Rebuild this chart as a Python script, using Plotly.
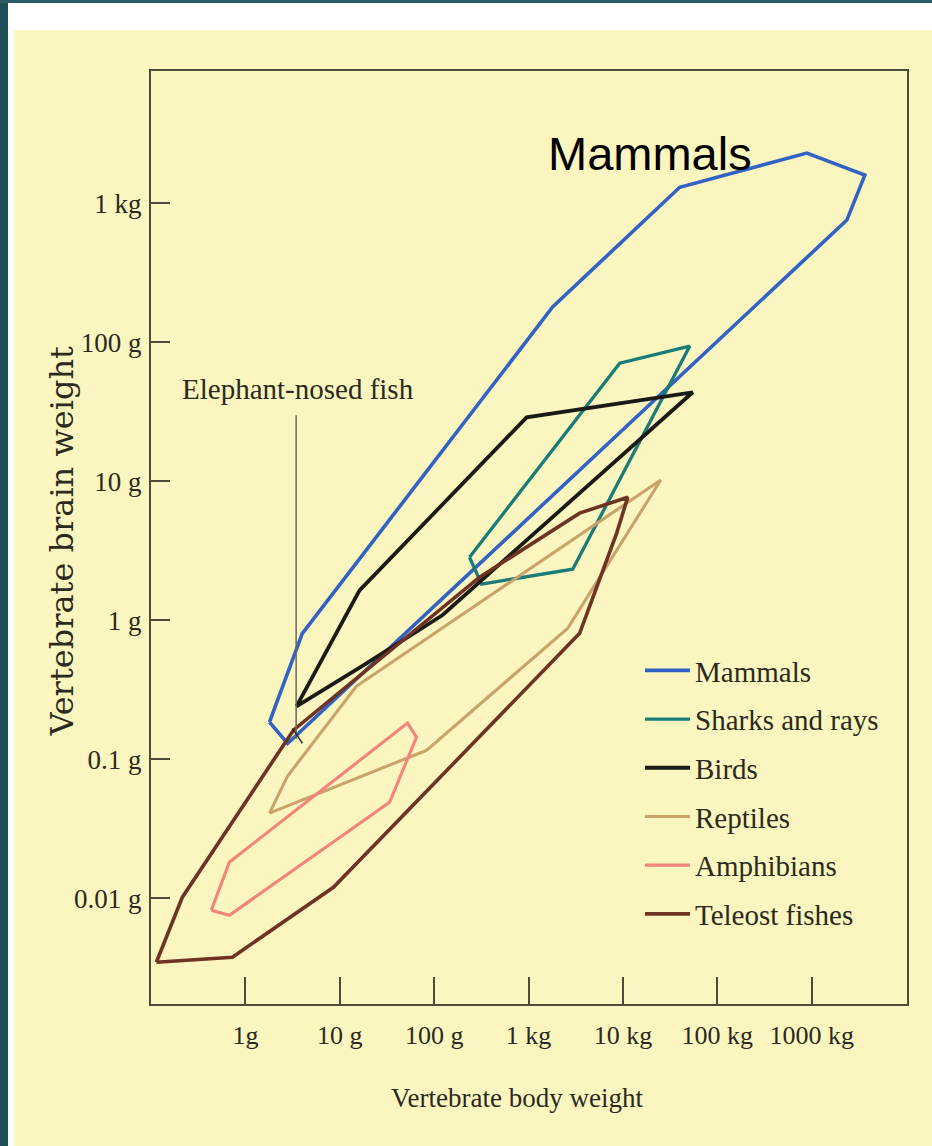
import math
import plotly.graph_objects as go

# ---------------- data (grams) ----------------
mammals_body = [1.8, 4.0, 1800, 40000, 889000, 3660000, 2360000, 2.8, 1.8]
mammals_brain = [0.185, 0.8, 179, 1300, 2290, 1590, 755, 0.13, 0.185]

sharks_body = [237, 318, 2940, 51000, 9250, 237]
sharks_brain = [2.84, 1.82, 2.33, 93.5, 70.6, 2.84]

birds_body = [3.48, 16.2, 955, 55000, 123, 19.2, 3.48]
birds_brain = [0.24, 1.64, 28.8, 43.6, 1.09, 0.49, 0.24]

reptiles_body = [1.8, 2.79, 15.0, 25200, 2600, 83, 1.8]
reptiles_brain = [0.041, 0.0755, 0.335, 10.2, 0.875, 0.116, 0.041]

amphibians_body = [0.436, 0.676, 33.7, 65, 52.2, 0.676, 0.436]
amphibians_brain = [0.0082, 0.00755, 0.049, 0.144, 0.182, 0.0182, 0.0082]

teleost_body = [0.114, 0.728, 8.57, 3480, 8590, 11250, 3480, 303, 3.23, 0.215, 0.114]
teleost_brain = [0.00347, 0.00377, 0.012, 0.805, 4.23, 7.67, 5.89, 2.04, 0.162, 0.0102, 0.00347]

fish_marker_body = [3.45, 3.45]
fish_marker_brain = [29.8, 0.14]
fish_tick_body = [3.15, 4.02]
fish_tick_brain = [0.167, 0.130]

group_names = ["Mammals", "Sharks and rays", "Birds", "Reptiles", "Amphibians", "Teleost fishes"]
group_colors = ["#3262c4", "#197c76", "#1c1a17", "#c9a26c", "#f4837a", "#6e3322"]
group_widths = [3.6, 3.3, 3.8, 3.1, 3.1, 3.6]

x_tickvals = [1, 10, 100, 1000, 10000, 100000, 1000000]
x_ticktext = ["1g", "10 g", "100 g", "1 kg", "10 kg", "100 kg", "1000 kg"]
y_tickvals = [0.01, 0.1, 1, 10, 100, 1000]
y_ticktext = ["0.01 g", "0.1 g", "1 g", "10 g", "100 g", "1 kg"]

# ---------------- layout geometry ----------------
W, H = 932, 1146
L, R, T, B = 151, 907, 71, 1004


def px_x(p):
    return (p - L) / (R - L)


def px_y(p):
    return 1 - (p - T) / (B - T)


SERIF = "Liberation Serif"
INK = "#2b2a20"
FRAME = "#4d4a38"

fig = go.Figure()

series = [
    (mammals_body, mammals_brain),
    (sharks_body, sharks_brain),
    (birds_body, birds_brain),
    (reptiles_body, reptiles_brain),
    (amphibians_body, amphibians_brain),
    (teleost_body, teleost_brain),
]

for (bx, by), name, col, w in zip(series, group_names, group_colors, group_widths):
    fig.add_trace(go.Scatter(
        x=bx, y=by, mode="lines", name=name, legendgroup=name,
        line=dict(color=col, width=w), hoverinfo="name",
    ))

fig.add_trace(go.Scatter(
    x=fish_marker_body, y=fish_marker_brain, mode="lines", showlegend=False,
    line=dict(color="#6b6a58", width=1.5), hoverinfo="skip",
))
fig.add_trace(go.Scatter(
    x=fish_tick_body, y=fish_tick_brain, mode="lines", showlegend=False,
    line=dict(color="#2a2a20", width=1.5), hoverinfo="skip",
))

shapes = [
    dict(type="rect", xref="paper", yref="paper", x0=px_x(0), x1=px_x(W), y0=px_y(H), y1=px_y(0),
         fillcolor="#fbf6bf", line=dict(width=0), layer="below"),
    dict(type="rect", xref="paper", yref="paper", x0=px_x(8), x1=px_x(W), y0=px_y(30), y1=px_y(3),
         fillcolor="#ffffff", line=dict(width=0), layer="below"),
    dict(type="rect", xref="paper", yref="paper", x0=px_x(8), x1=px_x(14), y0=px_y(H), y1=px_y(3),
         fillcolor="#ffffff", line=dict(width=0), layer="below"),
    dict(type="rect", xref="paper", yref="paper", x0=px_x(0), x1=px_x(8), y0=px_y(H), y1=px_y(0),
         fillcolor="#1f4d58", line=dict(width=0), layer="below"),
    dict(type="rect", xref="paper", yref="paper", x0=px_x(0), x1=px_x(W), y0=px_y(3), y1=px_y(0),
         fillcolor="#2a5e66", line=dict(width=0), layer="below"),
]

annotations = [
    dict(text="Mammals", x=4.289, y=3.356, xref="x", yref="y", showarrow=False,
         xanchor="center", yanchor="middle",
         font=dict(family="Liberation Sans", size=47, color="#000000")),
    dict(text="Elephant-nosed fish", x=0.557, y=1.662, xref="x", yref="y", showarrow=False,
         xanchor="center", yanchor="middle",
         font=dict(family=SERIF, size=29, color=INK)),
    dict(text="Vertebrate body weight", x=px_x(516.5), y=px_y(1098), xref="paper", yref="paper",
         showarrow=False, xanchor="center", yanchor="middle",
         font=dict(family=SERIF, size=27, color=INK)),
    dict(text="Vertebrate brain weight", x=px_x(61), y=px_y(541.5), xref="paper", yref="paper",
         showarrow=False, xanchor="center", yanchor="middle", textangle=-90,
         font=dict(family="DejaVu Serif", size=32, color=INK)),
]

fig.update_layout(
    width=W, height=H,
    margin=dict(l=L, r=W - R, t=T, b=H - B, autoexpand=False),
    paper_bgcolor="#fbf6bf",
    plot_bgcolor="#fdf9cc",
    shapes=shapes,
    annotations=annotations,
    showlegend=True,
    legend=dict(
        x=px_x(640), y=px_y(645), xanchor="left", yanchor="top",
        bgcolor="rgba(0,0,0,0)", borderwidth=0,
        font=dict(family=SERIF, size=29, color=INK),
        tracegroupgap=8, itemwidth=45,
    ),
    xaxis=dict(
        type="log", range=[-1.0, 7.01],
        tickvals=x_tickvals, ticktext=x_ticktext,
        ticks="inside", ticklen=27, tickwidth=1.5, tickcolor=FRAME,
        showline=True, linecolor=FRAME, linewidth=2, mirror=True,
        showgrid=False, zeroline=False,
        tickfont=dict(family=SERIF, size=26, color=INK),
        ticklabelstandoff=7,
    ),
    yaxis=dict(
        type="log", range=[-2.76, 3.95],
        tickvals=y_tickvals, ticktext=y_ticktext,
        ticks="inside", ticklen=19, tickwidth=1.5, tickcolor=FRAME,
        showline=True, linecolor=FRAME, linewidth=2, mirror=True,
        showgrid=False, zeroline=False,
        tickfont=dict(family=SERIF, size=27, color=INK),
        ticklabelstandoff=2,
    ),
)

fig.write_html(
    "out.html",
    config={"displayModeBar": False},
    post_script="document.body.style.margin='0';document.body.style.overflow='hidden';",
)
